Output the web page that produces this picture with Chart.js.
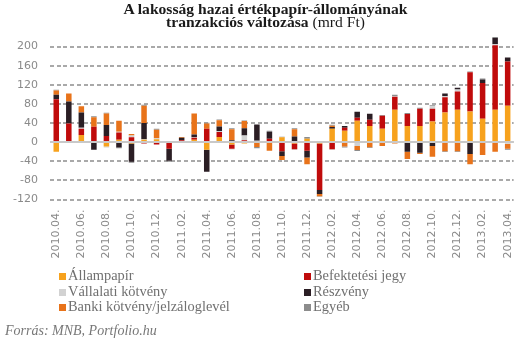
<!DOCTYPE html>
<html>
<head>
<meta charset="utf-8">
<script src="https://cdn.jsdelivr.net/npm/chart.js@4.4.0/dist/chart.umd.min.js"></script>
<style>
  body { margin: 0; background: #fff; }
  #wrap { position: relative; width: 531px; height: 342px; overflow: hidden; }
  #chart { position: absolute; left: 0; top: 0; }
  #title {
    position: absolute; left: 0; top: 3px; width: 531px; text-align: center;
    font-family: "Liberation Serif", serif; font-size: 15.6px; line-height: 12.5px; color: #1a1a1a;
  }
  #title b { font-weight: bold; }
  .leg { position: absolute; font-family: "Liberation Serif", serif; font-size: 14.4px; color: #707070; white-space: nowrap; line-height: 14px; }
  .leg span { display: inline-block; width: 7px; height: 7px; margin-right: 2px; vertical-align: 0px; }
  #source { position: absolute; left: 5px; top: 323px; font-family: "Liberation Serif", serif; font-style: italic; font-size: 14px; color: #777; }
</style>
</head>
<body>
<div id="wrap">
  <canvas id="chart" width="531" height="342"></canvas>
  <div id="title"><b>A lakosság hazai értékpapír-állományának</b><br><b>tranzakciós változása</b> (mrd Ft)</div>
  <div id="legend"></div>
  <div id="source">Forrás: MNB, Portfolio.hu</div>
</div>
<script>
// months 2010.04 - 2013.04
const months = [
  "2010.04.", "2010.05.", "2010.06.", "2010.07.", "2010.08.", "2010.09.", "2010.10.", "2010.11.", "2010.12.",
  "2011.01.", "2011.02.", "2011.03.", "2011.04.", "2011.05.", "2011.06.", "2011.07.", "2011.08.", "2011.09.",
  "2011.10.", "2011.11.", "2011.12.", "2012.01.", "2012.02.", "2012.03.", "2012.04.", "2012.05.", "2012.06.",
  "2012.07.", "2012.08.", "2012.09.", "2012.10.", "2012.11.", "2012.12.", "2013.01.", "2013.02.", "2013.03.", "2013.04."
];

// series values (mrd Ft)
const allampapir = [-20, 0, 15, 0, -9, 5, -3, 5, 6, 0, 0, 5, -16, 11, -5, -3, 0, 0, 10, -3, 7, -3, 28, 24, 45, 34, 28, 68, 34, 34, 43, 62, 68, 64, 49, 68, 76];
const befektetesi = [90, 39, 13, 32, 13, 15, 10, -3, -5, -14, 4, 4, 28, 10, -9, 4, -2, 7, -19, -12, -18, -97, -15, 6, 6, 13, 27, 27, 25, 36, 27, 32, 38, 82, 75, 135, 93];
const vallalati = [0, 0, 2, 0, -2, 2, 4, 1, 2, 0, 0, 1, 0, 2, -1.5, 10, 3, 0, 0, -1.5, 0, 0, -1.5, 0, -8, 0, 0, 1, 0, 0, 5, 2, 4, 0, 0, 2, -3.5];
const reszveny = [9, 46, 32, -16, 23, -11, -38, 34, 0, -25, 5, 6, -46, 10, 4, 15, 34, 15, -10, 12, -14, -8.5, 3.5, 4, 12.6, 12.6, 0, 0, -20, -22, -8, 6, 4, -25, 7, 13, 8];
const banki = [9, 17, 13, 20, 24, 23, 3, 36, 18, 0, 2, 44, 11, 13, 23, 15, -8, -18, -8.5, 15, -14.5, -4.5, 3, -9, -8.4, -10.5, -8, -3, -15, -3, -22.5, -19, -19, -21, -27, -20, -10.5];
const egyeb = [1.5, -2, -2, 2, 1.5, -2, -2, 2, 2, -2, -2, -2, 1.5, 1.5, 2, 1.5, -3, 2, 1.5, 2, 4, -1.5, 2, -2, -2, -1.5, 2, 3, 2, 2, 2, -1.5, -1.5, 2, 2, 2, -2];

const yTicks = [-120, -80, -40, 0, 40, 80, 120, 160, 200];

const series = [
  { label: "Állampapír", data: allampapir, color: "#f7a21d" },
  { label: "Befektetési jegy", data: befektetesi, color: "#c00b0b" },
  { label: "Vállalati kötvény", data: vallalati, color: "#d2d2d2" },
  { label: "Részvény", data: reszveny, color: "#2b1e24" },
  { label: "Banki kötvény/jelzáloglevél", data: banki, color: "#e8731a" },
  { label: "Egyéb", data: egyeb, color: "#8c8c8c" }
];

// dashed grid lines behind the bars (dashes drawn one by one), solid zero line on top
const gridLines = {
  id: "gridLines",
  beforeDatasetsDraw(chart) {
    const { ctx, chartArea, scales } = chart;
    ctx.save();
    ctx.fillStyle = "#a9a9a9";
    yTicks.forEach(v => {
      if (v === 0) return;
      const y = Math.round(scales.y.getPixelForValue(v));
      for (let x = chartArea.left; x < chartArea.right; x += 6.7) {
        ctx.fillRect(Math.round(x), y - 1, Math.min(4, chartArea.right - x), 2);
      }
    });
    ctx.restore();
  },
  afterDatasetsDraw(chart) {
    const { ctx, chartArea, scales } = chart;
    const y = Math.round(scales.y.getPixelForValue(0));
    ctx.save();
    ctx.fillStyle = "#c9c9c9";
    ctx.fillRect(chartArea.left, y - 1, chartArea.right - chartArea.left, 2);
    ctx.restore();
  }
};

const tickFont = { family: "DejaVu Sans", size: 11 };

new Chart(document.getElementById("chart"), {
  type: "bar",
  data: {
    labels: months,
    datasets: series.map(s => ({
      label: s.label,
      data: s.data,
      backgroundColor: s.color,
      borderWidth: 0,
      barPercentage: 0.44,
      categoryPercentage: 1
    }))
  },
  options: {
    responsive: false,
    animation: false,
    layout: { padding: { top: 37, right: 10, bottom: 80.5, left: 0 } },
    plugins: { legend: { display: false }, tooltip: { enabled: false } },
    scales: {
      x: {
        stacked: true,
        grid: { display: false, drawTicks: false },
        border: { display: false },
        afterFit: s => { s.height = 62; },
        ticks: {
          autoSkip: false,
          minRotation: 90,
          maxRotation: 90,
          padding: 10,
          color: "#8a8a8a",
          font: tickFont,
          callback: (v, i) => (i % 2 === 0 ? months[i] : "")
        }
      },
      y: {
        stacked: true,
        min: -120,
        max: 220,
        afterFit: s => { s.width = 50; },
        afterBuildTicks: s => { s.ticks = yTicks.map(v => ({ value: v })); },
        grid: { display: false, drawTicks: false },
        border: { display: false },
        ticks: { padding: 12, color: "#8a8a8a", font: tickFont }
      }
    }
  },
  plugins: [gridLines]
});

// two-column legend, row by row
const legend = document.getElementById("legend");
series.forEach((s, i) => {
  const d = document.createElement("div");
  d.className = "leg";
  d.style.left = (i % 2 === 0 ? 59 : 304) + "px";
  d.style.top = (268 + Math.floor(i / 2) * 15.5) + "px";
  d.innerHTML = '<span style="background:' + s.color + '"></span>' + s.label;
  legend.appendChild(d);
});
</script>
</body>
</html>
